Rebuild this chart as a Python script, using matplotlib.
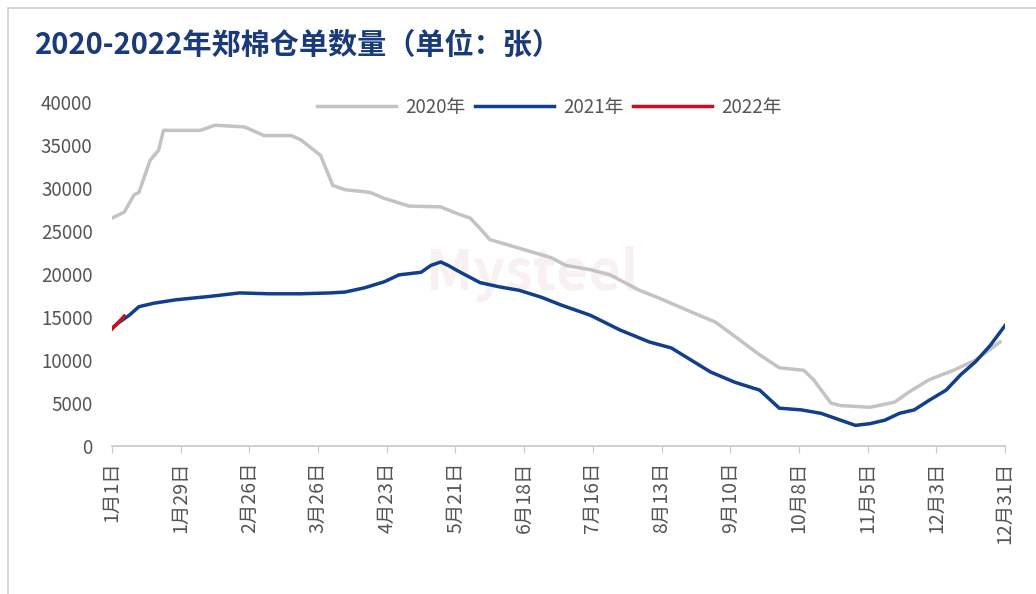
import matplotlib
matplotlib.use('Agg')
from matplotlib import pyplot as plt
from matplotlib.patches import Rectangle

plt.rcParams['font.family'] = ['Noto Sans CJK SC', 'DejaVu Sans']
plt.rcParams['axes.unicode_minus'] = False

# 2020年 (day of year, 张)
days_2020 = [0, 5, 9, 11, 15.5, 19, 21, 36, 42, 54, 62, 73, 77, 85, 90, 95, 105, 111,
             121, 134, 140, 146, 150, 154, 166, 179, 185, 195, 203, 215, 223, 236, 246,
             256, 264, 272, 282, 286, 293, 297, 309, 319, 325, 333, 343, 352, 362]
vals_2020 = [26500, 27200, 29200, 29500, 33200, 34400, 36700, 36700, 37300, 37100, 36100,
             36100, 35600, 33800, 30300, 29800, 29500, 28800, 27900, 27800, 27100, 26500,
             25300, 24000, 23000, 21900, 21000, 20500, 19900, 18100, 17200, 15600, 14400,
             12300, 10600, 9100, 8800, 7700, 5000, 4700, 4500, 5100, 6300, 7700, 8800,
             10000, 12100]

# 2021年
days_2021 = [0, 3, 7, 11, 17, 26, 40, 52, 64, 77, 89, 95, 103, 111, 117, 126, 130, 134,
             137, 142, 150, 158, 166, 175, 183, 195, 207, 219, 228, 236, 244, 254, 264,
             272, 281, 289, 297, 303, 309, 315, 321, 327, 333, 340, 346, 352, 358, 364]
vals_2021 = [13700, 14400, 15200, 16200, 16600, 17000, 17400, 17800, 17700, 17700, 17800,
             17900, 18400, 19100, 19900, 20200, 21000, 21400, 21000, 20200, 19000, 18500,
             18100, 17300, 16400, 15200, 13500, 12100, 11400, 10000, 8600, 7400, 6500,
             4400, 4200, 3800, 3000, 2400, 2600, 3000, 3800, 4200, 5300, 6500, 8300,
             9800, 11700, 14000]

# 2022年
days_2022 = [0, 2, 4, 5]
vals_2022 = [13600, 14200, 14800, 15100]

tick_days = list(range(0, 365, 28))
tick_labels = ['1月1日', '1月29日', '2月26日', '3月26日', '4月23日', '5月21日', '6月18日',
               '7月16日', '8月13日', '9月10日', '10月8日', '11月5日', '12月3日', '12月31日']

fig = plt.figure(figsize=(10.36, 5.94), dpi=100)
fig.patches.append(Rectangle((8 / 1036, -0.1), 1.0, 1.1 - 8 / 594, transform=fig.transFigure,
                             fill=False, edgecolor='#d0d0d0', linewidth=1.2))
ax = fig.add_axes([112 / 1036, 1 - 446 / 594, (1005 - 112) / 1036, (446 - 102) / 594])

ax.plot(days_2020, vals_2020, color='#c3c3c3', linewidth=2.5, label='2020年')
ax.plot(days_2021, vals_2021, color='#123f8c', linewidth=2.5, label='2021年')
ax.plot(days_2022, vals_2022, color='#c8101e', linewidth=2.5, label='2022年')

ax.set_xlim(0, 364)
ax.set_ylim(0, 40000)
ax.set_yticks(range(0, 40001, 5000))
ax.set_xticks(tick_days)
ax.set_xticklabels(tick_labels, rotation=90)
ax.tick_params(axis='y', length=0, labelsize=13.5, labelcolor='#555555', pad=14)
ax.tick_params(axis='x', length=5, color='#c8c8c8', labelsize=14, labelcolor='#555555', pad=6)
for s in ['top', 'right', 'left']:
    ax.spines[s].set_visible(False)
ax.spines['bottom'].set_color('#c8c8c8')
ax.spines['bottom'].set_linewidth(1.2)

# 水印
ax.text(0.47, 0.5, 'Mysteel', transform=ax.transAxes, fontsize=40, color='#e8c8c8',
        alpha=0.25, ha='center', va='center', fontweight='bold', zorder=0)

leg = ax.legend(loc='upper center', bbox_to_anchor=(0.49, 1.065), ncol=3, frameon=False,
                fontsize=13.5, handlelength=4.2, columnspacing=0.5, handletextpad=0.5)
for t in leg.get_texts():
    t.set_color('#555555')

fig.text(35 / 1036, 1 - 45 / 594, '2020-2022年郑棉仓单数量（单位：张）', fontsize=21,
         fontweight='bold', color='#1a3a7a', va='center', ha='left')

fig.savefig('out.png', dpi=100)
